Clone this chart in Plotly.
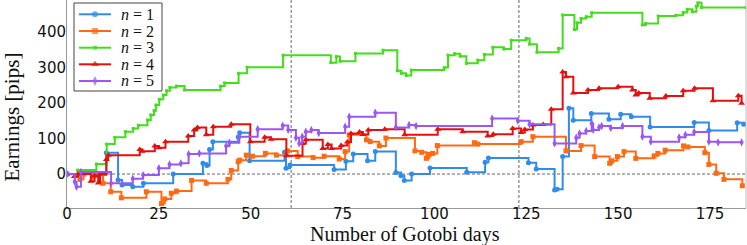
import plotly.graph_objects as go

# ---- data (step points: value y starts at day x) ----
n1_x = [0, 5, 8, 10.7, 13.9, 15, 17.9, 20.8, 28.9, 37, 38.1, 38.8, 39.7, 46.6, 47, 49.7, 59.2, 59.6, 60.7, 72.7, 75.9, 77.9, 81.8, 83.9, 89.5, 90.9, 91.8, 93.8, 98.8, 108.8, 113.8, 114.7, 125.6, 127.7, 132.7, 133.4, 134.9, 136.6, 137.8, 142.7, 147.5, 150.7, 153.6, 158.7, 170.7, 174.7, 182.4, 184.2]
n1_y = [0, 3, -3, 60, -17, -31, -36, -26, 0, 30, 24, 69, 91, 104, 116, 37, 61, 16, 25, 13, 36, 56, 37, 63, 4, -5, -18, 0, 17, 5, 33, 45, 32, 14, -45, -43, 49, 185, 151, 170, 154, 168, 161, 132, 145, 122, 144, 140]

n2_x = [0, 3.5, 4.5, 7, 8, 9.8, 11.9, 14.8, 21.6, 25.7, 26.6, 28.4, 29.8, 33.9, 37.9, 43.8, 44.7, 46.6, 47, 48.8, 50.5, 54, 57, 60, 62.8, 67, 70, 74.1, 75.7, 76.8, 81.5, 82.5, 85, 86.8, 94.7, 96.5, 97.8, 98.6, 99.5, 100.8, 110.9, 111.8, 123.6, 126.8, 135.8, 139.9, 143.6, 147.7, 148.3, 149.8, 151.6, 154.8, 159.8, 160.8, 162.8, 167.8, 169, 173.6, 174.7, 176.7, 178.8, 183.8]
n2_y = [0, -15, 0, -8, 0, -26, -50, -67, -50, -83, -70, -54, -48, -18, -26, -15, 10, 35, 39, 53, 50, 58, 53, 65, 49, 46, 50, 42, 63, 110, 96, 91, 79, 101, 65, 61, 44, 55, 58, 80, 88, 84, 91, 105, 65, 80, 49, 30, 37, 49, 63, 44, 51, 58, 67, 79, 76, 60, 27, 2, -15, -33]

n3_x = [0, 2.9, 8, 10.8, 13, 15.9, 18, 19.4, 21.9, 22.8, 23.7, 24.2, 25.1, 26.2, 27.1, 28, 29.8, 32, 41.8, 42.9, 46.7, 49, 58.8, 71.8, 73.3, 74.3, 78.5, 86, 89.9, 91, 92.3, 93.7, 102.7, 103.7, 105.5, 107, 108.7, 111.8, 113.6, 115.9, 118.9, 120.9, 125, 125.9, 127.9, 133.8, 134.9, 138.1, 138.8, 139.9, 141.3, 142.8, 156.6, 157.5, 160.9, 165.7, 167.7, 168.8, 170.2, 171.3, 171.7, 172.7, 184.8]
n3_y = [0, 11, 28, 84, 103, 119, 128, 137, 152, 166, 178, 194, 210, 222, 234, 243, 247, 236, 247, 256, 283, 300, 334, 313, 330, 317, 339, 348, 290, 283, 277, 292, 299, 334, 338, 331, 311, 320, 336, 356, 351, 376, 381, 365, 342, 353, 447, 406, 425, 437, 442, 453, 419, 423, 444, 446, 454, 463, 456, 472, 481, 468, 468]

n4_x = [0, 2, 3, 6.5, 7.5, 8.5, 9, 10.7, 11.2, 19.8, 20.5, 23.9, 25, 26.8, 33, 34.6, 35.5, 37.9, 39.8, 44.7, 49.9, 53.8, 55.5, 59.7, 64.1, 65, 69.6, 71, 72, 74.6, 76.3, 77.3, 79.6, 80.5, 82, 86.5, 91.9, 100.9, 107.7, 114.5, 116, 121.3, 123.6, 124.6, 126.8, 129.6, 131.8, 134.9, 135.8, 137.8, 141.8, 144.8, 150, 153.9, 154.8, 155.6, 158.6, 163, 167.7, 170.8, 175.8, 182.7, 183.6]
n4_y = [0, -7, 0, -20, -5, -25, 0, 41, 53, 69, 64, 79, 74, 91, 107, 124, 131, 110, 133, 140, 91, 103, 98, 51, 86, 96, 72, 83, 72, 80, 90, 114, 118, 111, 124, 126, 110, 126, 119, 107, 112, 128, 117, 125, 138, 139, 182, 287, 273, 228, 236, 241, 245, 236, 222, 228, 213, 219, 234, 241, 206, 220, 199]

n5_x = [0, 2.1, 2.6, 3.8, 12, 17.9, 20.7, 25, 27.9, 31, 33.1, 36, 43.3, 44.2, 46.9, 51.9, 58.7, 60.2, 62.3, 63.2, 64, 65, 66.5, 68.5, 75.7, 76.8, 83.9, 89.5, 93.1, 95, 115.7, 122.7, 125.9, 132.7, 138.6, 139.5, 141.3, 142.8, 143.2, 144.8, 145.5, 148, 151.2, 156.6, 158.9, 166.6, 168.3, 170.7, 174.7, 177.2, 183.6]
n5_y = [0, -22, -36, 6, -26, -13, -3, 16, 27, 30, 56, 58, 79, 88, 105, 126, 136, 124, 102, 86, 105, 119, 124, 115, 133, 161, 172, 131, 138, 135, 156, 150, 140, 86, 102, 114, 121, 142, 124, 131, 135, 129, 135, 105, 91, 103, 110, 118, 91, 89, 89]

labels = ["<i>n</i> = 1", "<i>n</i> = 2", "<i>n</i> = 3", "<i>n</i> = 4", "<i>n</i> = 5"]
colors = ["#2f8ceb", "#ff6a14", "#44dd1c", "#e4100e", "#9a58f2"]
symbols = ["circle", "square", "square", "triangle-up", "diamond-tall"]
msizes = [5, 5, 3, 6, 6]
series = [(n1_x, n1_y), (n2_x, n2_y), (n3_x, n3_y), (n4_x, n4_y), (n5_x, n5_y)]

x_ticks = [0, 25, 50, 75, 100, 125, 150, 175]
y_ticks = [0, 100, 200, 300, 400]
x_range = [0, 184.8]
y_range = [-95.5, 489]
vlines = [61, 123]

W, H = 747, 245
ML, MR, MT, MB = 67, 1, 0, 37
PW, PH = W - ML - MR, H - MT - MB


def px_to_paper(px, py):
    return (px - ML) / PW, (H - MB - py) / PH


fig = go.Figure()
for (xs, ys), lab, col, sym, ms in zip(series, labels, colors, symbols, msizes):
    fig.add_trace(go.Scatter(
        x=xs, y=ys, mode="lines+markers", name=lab, showlegend=False,
        line=dict(color=col, width=2, shape="hv"),
        marker=dict(color=col, symbol=sym, size=ms, line=dict(width=0)),
    ))

for v in vlines:
    fig.add_shape(type="line", xref="x", yref="paper", x0=v, x1=v, y0=0, y1=1,
                  line=dict(color="#666666", width=1, dash="3px,2px"), layer="below")
fig.add_shape(type="line", xref="paper", yref="y", x0=0, x1=1, y0=0, y1=0,
              line=dict(color="#666666", width=1, dash="3px,2px"), layer="below")
fig.add_shape(type="line", xref="paper", yref="paper", x0=1, x1=1, y0=0, y1=1,
              line=dict(color="#bbbbbb", width=1))

# ---- manual legend (box, samples, labels) ----
bx0, by0 = px_to_paper(74, 3)
bx1, by1 = px_to_paper(162, 91)
fig.add_shape(type="rect", xref="paper", yref="paper", x0=bx0, x1=bx1, y0=by1, y1=by0,
              fillcolor="white", line=dict(color="#444444", width=1), layer="below")
row_py = [14.3, 31, 47.7, 64.3, 81]
for lab, col, sym, ms, rpy in zip(labels, colors, symbols, msizes, row_py):
    lx0, ly = px_to_paper(79, rpy)
    lx1, _ = px_to_paper(111, rpy)
    lxm = (lx0 + lx1) / 2
    fig.add_trace(go.Scatter(
        x=[lx0, lxm, lx1], y=[ly, ly, ly], xaxis="x2", yaxis="y2",
        mode="lines+markers", showlegend=False, hoverinfo="skip", cliponaxis=False,
        line=dict(color=col, width=2),
        marker=dict(color=col, symbol=sym, size=[0, ms + 1, 0], line=dict(width=0)),
    ))
    tx, ty = px_to_paper(119, rpy)
    fig.add_annotation(text=lab, xref="paper", yref="paper", x=tx, y=ty,
                       xanchor="left", yanchor="middle", showarrow=False,
                       font=dict(family="Liberation Serif", size=16, color="#111111"))

tickfont = dict(family="DejaVu Sans", size=15, color="#111111")
fig.update_layout(
    xaxis=dict(range=x_range, tickvals=x_ticks, ticktext=[str(t) for t in x_ticks],
               showgrid=False, zeroline=False, showline=True, linecolor="#999999",
               linewidth=1, ticks="", tickfont=tickfont, ticklabelstandoff=-8),
    yaxis=dict(range=y_range, tickvals=y_ticks, ticktext=[str(t) for t in y_ticks],
               showgrid=False, zeroline=False, showline=True, linecolor="#999999",
               linewidth=1, ticks="", tickfont=tickfont, ticklabelstandoff=-3),
    xaxis2=dict(overlaying="x", range=[0, 1], visible=False, fixedrange=True),
    yaxis2=dict(overlaying="y", range=[0, 1], visible=False, fixedrange=True),
)

fig.add_annotation(text="Number of Gotobi days", xref="paper", yref="paper",
                   x=0.498, y=-0.128, xanchor="center", yanchor="middle", showarrow=False,
                   borderpad=0,
                   font=dict(family="Liberation Serif", size=20, color="#111111"))
fig.add_annotation(text="Earnings [pips]", xref="paper", yref="paper",
                   x=-0.081, y=0.435, xanchor="center", yanchor="middle", showarrow=False,
                   textangle=-90,
                   font=dict(family="Liberation Serif", size=21, color="#111111"))

fig.update_layout(
    width=W, height=H,
    margin=dict(l=ML, r=MR, t=MT, b=MB),
    plot_bgcolor="white", paper_bgcolor="white",
    showlegend=False,
)

fig.write_html("out.html", config={"displayModeBar": False},
               post_script="document.body.style.margin='0';document.body.style.padding='0';")
